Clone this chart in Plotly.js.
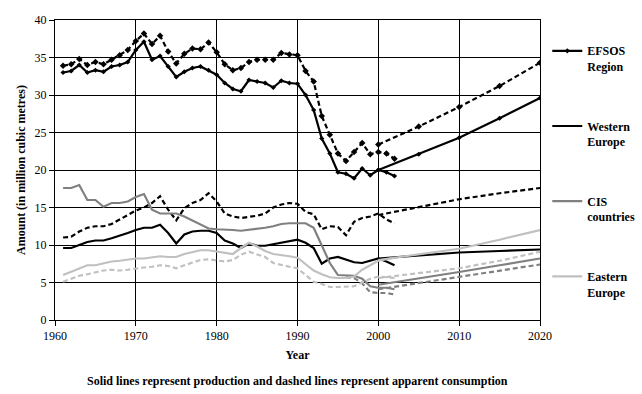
<!DOCTYPE html>
<html>
<head>
<meta charset="utf-8">
<script src="https://cdn.plot.ly/plotly-3.0.1.min.js"></script>
<style>html,body{margin:0;padding:0;background:#fff;}#chart{width:642px;height:394px;}</style>
</head>
<body>
<div id="chart"></div>
<script>
// ---- Data ----
const years = [1961,1962,1963,1964,1965,1966,1967,1968,1969,1970,
               1971,1972,1973,1974,1975,1976,1977,1978,1979,1980,
               1981,1982,1983,1984,1985,1986,1987,1988,1989,1990,
               1991,1992,1993,1994,1995,1996,1997,1998,1999,2000,
               2001,2002];
const projYears = [2000,2005,2010,2015,2020];

const efsosProd = [33.0,33.2,34.0,33.0,33.3,33.1,33.8,34.0,34.4,36.0,
                   37.1,34.7,35.2,33.8,32.4,33.1,33.6,33.8,33.3,32.7,
                   31.6,30.8,30.5,32.0,31.8,31.6,31.0,31.9,31.6,31.5,
                   30.0,28.0,24.2,22.2,19.7,19.5,18.9,20.2,19.3,20.0,
                   19.7,19.2];
const efsosCons = [33.9,34.1,34.8,34.0,34.4,34.1,34.7,35.3,36.0,37.2,
                   38.2,36.8,37.9,35.8,34.2,35.5,36.2,36.1,37.0,35.7,
                   34.1,33.3,33.6,34.4,34.7,34.7,34.7,35.6,35.4,35.3,
                   33.2,31.8,27.2,24.7,22.2,21.2,22.4,23.6,22.1,22.4,
                   22.2,21.5];
const westProd = [9.6,9.6,10.0,10.4,10.6,10.6,10.9,11.2,11.6,12.0,
                  12.3,12.3,12.7,11.6,10.2,11.4,11.8,11.9,11.9,11.6,
                  10.6,10.2,9.6,10.2,9.9,9.9,10.1,10.4,10.6,10.7,
                  10.3,9.6,7.5,8.2,8.4,8.0,7.7,7.6,7.9,8.2,
                  7.8,7.3];
const westCons = [11.0,11.1,11.8,12.3,12.5,12.5,12.8,13.4,14.0,14.6,
                  15.0,15.6,16.5,14.7,13.3,14.9,15.6,16.0,16.9,15.8,
                  14.2,13.8,13.6,13.7,13.9,14.2,15.0,15.4,15.6,15.5,
                  14.4,14.1,12.1,12.5,12.4,11.3,13.1,13.6,13.8,14.2,
                  13.4,12.9];
const cisProd = [17.6,17.6,18.0,16.0,16.0,15.1,15.6,15.6,15.8,16.4,
                 16.8,14.7,14.2,14.2,14.2,13.8,13.3,12.8,12.2,12.1,
                 12.1,12.0,11.9,12.0,12.2,12.3,12.5,12.8,12.9,12.9,
                 12.9,12.3,10.0,7.6,6.0,5.9,5.9,5.5,4.5,4.3,
                 4.3,4.1];
const cisConsYears = [1996,1997,1998,1999,2000,2001,2002];
const cisCons = [5.7,5.6,4.9,3.7,3.6,3.6,3.4];
const eastProd = [6.0,6.4,6.9,7.3,7.3,7.6,7.8,7.9,8.1,8.2,
                  8.2,8.4,8.5,8.4,8.4,8.8,9.1,9.3,9.3,9.1,
                  8.9,8.8,9.6,10.3,9.8,9.2,8.8,8.7,8.5,8.3,
                  7.4,6.6,6.1,5.7,5.6,5.6,5.8,6.7,7.3,7.9,
                  8.1,8.3];
const eastCons = [5.1,5.5,5.9,6.1,6.4,6.6,6.7,6.6,6.7,6.9,
                  7.0,7.1,7.3,7.2,6.9,7.3,7.6,8.0,8.1,7.9,
                  7.8,8.0,8.7,9.1,8.7,8.4,7.6,7.3,7.1,6.9,
                  6.0,5.1,4.8,4.4,4.4,4.4,4.5,5.0,5.5,5.8,
                  5.7,5.6];

const efsosProdProj = [20.0,22.1,24.3,26.9,29.6];
const efsosConsProj = [23.4,25.8,28.4,31.2,34.3];
const westProdProj  = [8.2,8.6,9.0,9.2,9.4];
const westConsProj  = [14.0,15.1,16.1,16.9,17.6];
const cisProdProj   = [4.7,5.5,6.4,7.3,8.2];
const cisConsProj   = [4.1,4.9,5.7,6.5,7.4];
const eastProdProj  = [8.0,8.7,9.5,10.7,12.0];
const eastConsProj  = [5.6,6.2,6.9,7.9,9.1];

const legendNames = ['EFSOS<br>Region','Western<br>Europe','CIS<br>countries','Eastern<br>Europe'];

// ---- Styles ----
const BLACK = '#000000', DARK = '#808080', LIGHT = '#c0c0c0';
const DASH = '5px,3px';
const FONT = 'Liberation Serif, Times New Roman, serif';

function tr(x, y, color, dashed, group, opts) {
  const t = {
    x: x, y: y, type: 'scatter', mode: 'lines',
    line: {color: color, width: 2.2, dash: dashed ? DASH : 'solid'},
    legendgroup: group, showlegend: false, hoverinfo: 'skip'
  };
  return Object.assign(t, opts || {});
}
const efsosMk = (s) => ({mode: 'lines+markers', marker: {symbol: 'diamond', size: s, color: BLACK}});

const traces = [
  // EFSOS
  tr(years, efsosCons, BLACK, true, 'g1', efsosMk(5)),
  tr(projYears, efsosConsProj, BLACK, true, 'g1', efsosMk(5)),
  tr(projYears, efsosProdProj, BLACK, false, 'g1', efsosMk(4)),
  tr(years, efsosProd, BLACK, false, 'g1', Object.assign(efsosMk(4), {showlegend: true, name: legendNames[0]})),
  // Western Europe
  tr(years, westCons, BLACK, true, 'g2'),
  tr(projYears, westConsProj, BLACK, true, 'g2'),
  tr(projYears, westProdProj, BLACK, false, 'g2'),
  tr(years, westProd, BLACK, false, 'g2', {showlegend: true, name: legendNames[1]}),
  // CIS
  tr(cisConsYears, cisCons, DARK, true, 'g3'),
  tr(projYears, cisConsProj, DARK, true, 'g3'),
  tr(projYears, cisProdProj, DARK, false, 'g3'),
  tr(years, cisProd, DARK, false, 'g3', {showlegend: true, name: legendNames[2]}),
  // Eastern Europe
  tr(years, eastCons, LIGHT, true, 'g4'),
  tr(projYears, eastConsProj, LIGHT, true, 'g4'),
  tr(projYears, eastProdProj, LIGHT, false, 'g4'),
  tr(years, eastProd, LIGHT, false, 'g4', {showlegend: true, name: legendNames[3]})
];

const layout = {
  width: 642, height: 394,
  margin: {l: 55, r: 102, t: 20, b: 74, pad: 0, autoexpand: false},
  paper_bgcolor: '#ffffff', plot_bgcolor: '#ffffff',
  font: {family: FONT, size: 12, color: BLACK},
  showlegend: true,
  xaxis: {
    range: [1960, 2020], dtick: 10, tick0: 1960,
    showgrid: true, gridcolor: BLACK, gridwidth: 1,
    showline: true, linecolor: BLACK, linewidth: 1, mirror: true,
    ticks: 'outside', ticklen: 5, tickcolor: BLACK,
    zeroline: false, fixedrange: true, automargin: false,
    tickfont: {family: FONT, size: 12, color: BLACK},
    title: {text: '<b>Year</b>', font: {family: FONT, size: 12, color: BLACK}, standoff: 8}
  },
  yaxis: {
    range: [0, 40], dtick: 5, tick0: 0,
    showgrid: true, gridcolor: BLACK, gridwidth: 1,
    showline: true, linecolor: BLACK, linewidth: 1, mirror: true,
    ticks: 'outside', ticklen: 5, tickcolor: BLACK,
    zeroline: false, fixedrange: true, automargin: false,
    tickfont: {family: FONT, size: 12, color: BLACK},
    title: {text: '<b>Amount (in million cubic metres)</b>', font: {family: FONT, size: 12, color: BLACK}, standoff: 6}
  },
  legend: {
    x: 1.015, y: 0.945, xanchor: 'left', yanchor: 'top',
    traceorder: 'grouped', tracegroupgap: 41,
    valign: 'top', bgcolor: 'rgba(0,0,0,0)', borderwidth: 0,
    font: {family: FONT, size: 12, color: BLACK, weight: 'bold'},
    itemwidth: 30
  },
  annotations: [{
    xref: 'paper', yref: 'paper', x: 0.5, y: -0.203,
    xanchor: 'center', yanchor: 'middle', showarrow: false,
    text: '<b>Solid lines represent production and dashed lines represent apparent consumption</b>',
    font: {family: FONT, size: 12, color: BLACK}
  }]
};

Plotly.newPlot('chart', traces, layout, {staticPlot: true, displayModeBar: false});
</script>
</body>
</html>
